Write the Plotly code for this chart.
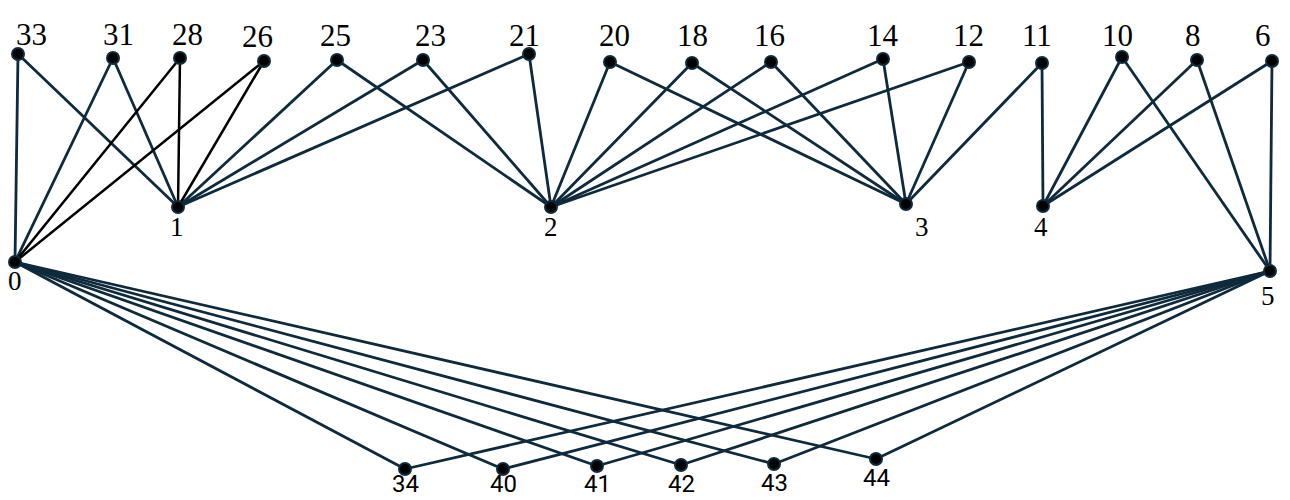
import plotly.graph_objects as go

# node layout (pixel coordinates of the original drawing)
nodes = ["33", "31", "28", "26", "25", "23", "21", "20", "18", "16", "14", "12", "11", "10", "8", "6",
         "1", "2", "3", "4", "0", "5",
         "34", "40", "41", "42", "43", "44"]
node_x = [18, 113, 180, 264, 337, 423, 529, 610, 692, 771, 883, 969, 1042, 1122, 1197, 1272,
          178, 551, 906, 1043, 15, 1270,
          405, 503, 597, 681, 774, 876]
node_y = [54, 58, 58, 61, 60, 60, 54, 62, 63, 62, 59, 62, 63, 57, 60, 61,
          207, 207, 204, 206, 262, 271,
          469, 469, 466, 465, 464, 459]

edges = [("33", "0"), ("33", "1"), ("31", "0"), ("31", "1"),
         ("25", "1"), ("25", "2"), ("23", "1"), ("23", "2"), ("21", "1"), ("21", "2"),
         ("20", "2"), ("20", "3"), ("18", "2"), ("18", "3"), ("16", "2"), ("16", "3"),
         ("14", "2"), ("14", "3"), ("12", "2"), ("12", "3"), ("11", "3"), ("11", "4"),
         ("10", "4"), ("10", "5"), ("8", "4"), ("8", "5"), ("6", "4"), ("6", "5"),
         ("0", "34"), ("0", "40"), ("0", "41"), ("0", "42"), ("0", "43"), ("0", "44"),
         ("5", "34"), ("5", "40"), ("5", "41"), ("5", "42"), ("5", "43"), ("5", "44")]
dark_edges = [("28", "0"), ("28", "1"), ("26", "0"), ("26", "1")]

top_row = nodes[:16]
mid_row = nodes[16:22]
bottom_row = nodes[22:]

# label placement tweaks (dx, dy) from each node, in pixels
label_off = {"33": (13, -20), "31": (5, -24), "28": (7, -24), "26": (-7, -25), "25": (-2, -25),
             "23": (7, -25), "21": (-5, -19), "20": (4, -27), "18": (0, -28), "16": (-2, -27),
             "14": (0, -24), "12": (-1, -27), "11": (-5, -28), "10": (-5, -22), "8": (-4, -25),
             "6": (-9, -26), "1": (-1, 20), "2": (0, 20), "3": (16, 23), "4": (-2, 21),
             "0": (0, 19), "5": (-2, 25)}

pos = {n: (x, y) for n, x, y in zip(nodes, node_x, node_y)}
EDGE = "#0e2a3b"


def edge_xy(pairs):
    xs, ys = [], []
    for a, b in pairs:
        xs += [pos[a][0], pos[b][0], None]
        ys += [pos[a][1], pos[b][1], None]
    return xs, ys


fig = go.Figure()
ex, ey = edge_xy(edges)
fig.add_trace(go.Scatter(x=ex, y=ey, mode="lines", line=dict(color=EDGE, width=2.8),
                         hoverinfo="skip"))
dx_, dy_ = edge_xy(dark_edges)
fig.add_trace(go.Scatter(x=dx_, y=dy_, mode="lines", line=dict(color="#000000", width=2.5),
                         hoverinfo="skip"))
fig.add_trace(go.Scatter(x=node_x, y=node_y, mode="markers", text=nodes, hoverinfo="text",
                         marker=dict(size=12, color="#000000", line=dict(color=EDGE, width=2))))

for n in top_row + mid_row:
    dx, dy = label_off[n]
    fig.add_annotation(x=pos[n][0] + dx, y=pos[n][1] + dy, text=n, showarrow=False,
                       xanchor="center", yanchor="middle",
                       font=dict(family="Liberation Serif", size=31 if n in top_row else 27,
                                 color="#000000"))
for n in bottom_row:
    fig.add_annotation(x=pos[n][0], y=min(pos[n][1] + 19, 484), text=n, showarrow=False,
                       xanchor="center", yanchor="middle",
                       font=dict(family="Roboto", size=24, color="#000000"))

fig.update_layout(width=1290, height=500, margin=dict(l=0, r=0, t=0, b=0),
                  plot_bgcolor="white", paper_bgcolor="white", showlegend=False)
fig.update_xaxes(range=[0, 1290], visible=False)
fig.update_yaxes(range=[500, 0], visible=False)

# drop the default page margin so the 1290x500 figure fills the window exactly
fig.write_html("out.html", config={"displayModeBar": False},
               post_script="document.body.style.margin='0';document.body.style.overflow='hidden';")
